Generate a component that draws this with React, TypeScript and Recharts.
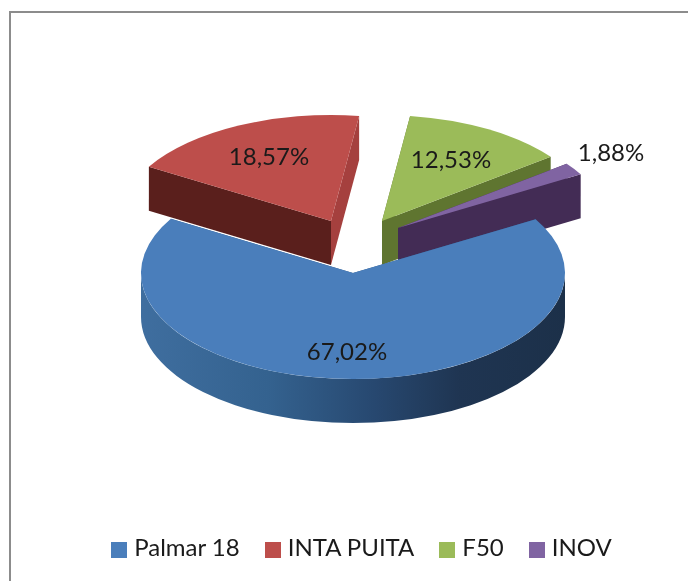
import React from "react";
import { PieChart, Pie, Legend } from "recharts";

const categories = ["Palmar 18", "INTA PUITA", "F50", "INOV"];
const shares = [67.02, 18.57, 12.53, 1.88];
const colors = ["#4a7ebb", "#bd4e4b", "#9bbb59", "#8064a2"];
const rows = categories.map((name, i) => ({ name, value: shares[i], fill: colors[i] }));

// drawing style
const W = 677, H = 568, CX = 342, CY = 260, R = 212, SQ = 0.5, DEPTH = 44;
const explode = [[0, 0], [-22, -52], [29, -52], [45, -45]];
const startFace = ["#2f5a8a", "#5a1f1c", "#5f7530", "#432c55"];
const endFace = ["#2f5a8a", "#a5403e", "#5f7530", "#432c55"];
const labelAt = [[-6, 77], [-84, -118], [98, -115], [258, -122]];
const FONT = "Lato, 'Noto Sans', sans-serif";

const rad = (a: number) => (a * Math.PI) / 180;

function drawSlice(p: any, i: number) {
  const [ox, oy] = explode[i];
  const cx = p.cx + ox, cy = p.cy + oy, r = p.outerRadius;
  const pt = (a: number) => [cx + r * Math.cos(rad(a)), cy - r * SQ * Math.sin(rad(a))];
  const s = p.startAngle, e = p.endAngle;
  const [sx, sy] = pt(s);
  const [ex, ey] = pt(e);
  const large = Math.abs(s - e) > 180 ? 1 : 0;
  const top = `M${cx},${cy}L${sx},${sy}A${r},${r * SQ},0,${large},1,${ex},${ey}Z`;
  const face = (x: number, y: number) =>
    `M${cx},${cy}L${x},${y}L${x},${y + DEPTH}L${cx},${cy + DEPTH}Z`;
  let wall = null;
  if (s > 0 && e < -180) {
    const a = cx - r, b = cx + r;
    wall = (
      <path
        d={`M${b},${cy}A${r},${r * SQ},0,0,1,${a},${cy}L${a},${cy + DEPTH}A${r},${r * SQ},0,0,0,${b},${cy + DEPTH}Z`}
        fill="url(#blueWall)"
      />
    );
  }
  return (
    <g>
      <defs>
        <linearGradient id="blueWall" x1="0" y1="0" x2="1" y2="0">
          <stop offset="0" stopColor="#3f6e9f" />
          <stop offset="0.3" stopColor="#34628f" />
          <stop offset="0.55" stopColor="#274870" />
          <stop offset="0.75" stopColor="#1f3552" />
          <stop offset="1" stopColor="#1c3049" />
        </linearGradient>
      </defs>
      <path d={face(sx, sy)} fill={startFace[i]} />
      <path d={face(ex, ey)} fill={endFace[i]} />
      {wall}
      <path d={top} fill={colors[i]} />
    </g>
  );
}

const backSlices = (p: any) => {
  const i = p.index ?? categories.indexOf(p.name);
  return i === 0 ? <g /> : drawSlice(p, i);
};
const frontSlice = (p: any) => {
  const i = p.index ?? categories.indexOf(p.name);
  return i === 0 ? drawSlice(p, i) : <g />;
};

const renderLabel = (p: any) => {
  const i = p.index ?? categories.indexOf(p.name);
  return (
    <text
      x={p.cx + labelAt[i][0]}
      y={p.cy + labelAt[i][1]}
      textAnchor="middle"
      dominantBaseline="central"
      fontFamily={FONT}
      fontSize={24}
      fill="#1a1a1a"
    >
      {shares[i].toFixed(2).replace(".", ",") + "%"}
    </text>
  );
};

export default function App() {
  return (
    <div
      style={{
        position: "absolute",
        left: 9,
        top: 11,
        width: W + 2,
        height: H + 2,
        boxSizing: "border-box",
        borderLeft: "2px solid #8c8c8c",
        borderTop: "2px solid #8c8c8c",
        background: "#fff",
        filter: "blur(0.4px)",
      }}
    >
      <PieChart width={W} height={H} margin={{ top: 0, right: 0, bottom: 0, left: 0 }}>
        <Pie
          data={rows}
          dataKey="value"
          nameKey="name"
          cx={CX}
          cy={CY}
          innerRadius={0}
          outerRadius={R}
          startAngle={30.5}
          endAngle={-329.5}
          stroke="none"
          isAnimationActive={false}
          shape={backSlices}
          labelLine={false}
        />
        <Pie
          data={rows}
          dataKey="value"
          nameKey="name"
          cx={CX}
          cy={CY}
          innerRadius={0}
          outerRadius={R}
          startAngle={30.5}
          endAngle={-329.5}
          stroke="none"
          isAnimationActive={false}
          legendType="none"
          shape={frontSlice}
          label={renderLabel}
          labelLine={false}
        />
        <Legend
          verticalAlign="bottom"
          align="center"
          iconType="square"
          iconSize={16}
          itemSorter={null}
          wrapperStyle={{ fontFamily: FONT, fontSize: 24, bottom: 20, left: 93, width: 540 }}
          formatter={(v: string) => (
            <span style={{ color: "#1a1a1a", marginLeft: 3, marginRight: 15 }}>{v}</span>
          )}
        />
      </PieChart>
    </div>
  );
}
